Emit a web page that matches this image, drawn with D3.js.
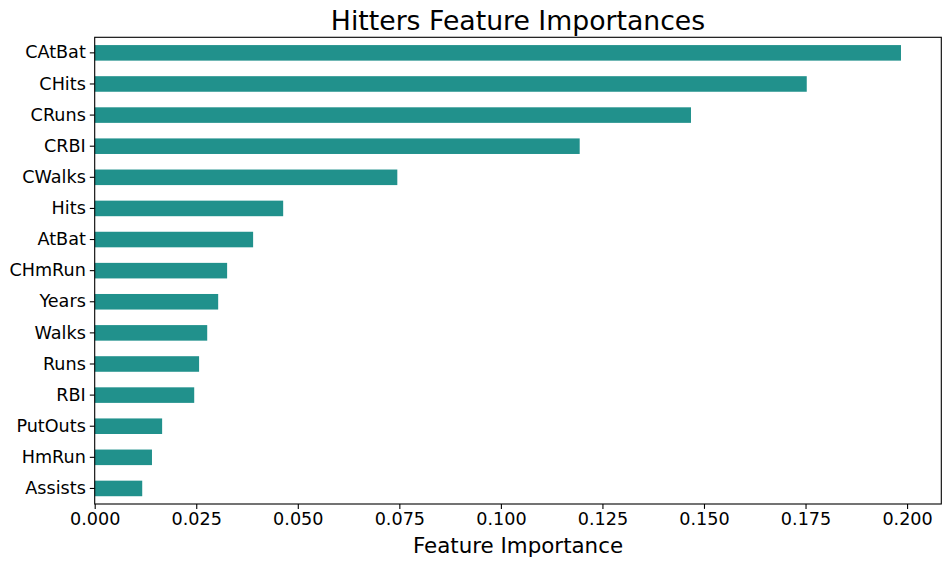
<!DOCTYPE html>
<html><head><meta charset="utf-8">
<script src="https://cdn.jsdelivr.net/npm/d3@7"></script>
<style>body{margin:0;background:#fff}svg{display:block}text{font-family:"DejaVu Sans",sans-serif}</style>
</head><body><svg id="c" width="950" height="566"></svg>
<script>
const features = ["CAtBat","CHits","CRuns","CRBI","CWalks","Hits","AtBat","CHmRun","Years","Walks","Runs","RBI","PutOuts","HmRun","Assists"];
const importances = [0.1985,0.1753,0.1468,0.1194,0.0745,0.0464,0.0390,0.0326,0.0304,0.0277,0.0257,0.0245,0.0166,0.0141,0.0117];
const xTicks = [0,0.025,0.05,0.075,0.1,0.125,0.15,0.175,0.2];

const svg = d3.select("#c");
const L = 94.7, R = 941.3, T = 37.3, B = 504;
const x = d3.scaleLinear().domain([0, d3.max(importances)*1.05]).range([L, R]);
const y = d3.scaleBand().domain(features).range([T, B]).paddingInner(0.5).paddingOuter(0.25);

svg.append("g").selectAll("rect").data(features).join("rect")
  .attr("x", x(0)).attr("y", d => y(d))
  .attr("width", (d,i) => x(importances[i]) - x(0))
  .attr("height", y.bandwidth()).attr("fill", "#21918c");

const xa = svg.append("g").attr("transform", `translate(0,${B})`)
  .call(d3.axisBottom(x).tickValues(xTicks).tickFormat(d3.format(".3f")).tickSize(4.9).tickPadding(4));
const ya = svg.append("g").attr("transform", `translate(${L},0)`)
  .call(d3.axisLeft(y).tickSize(4.9).tickPadding(4));
[xa, ya].forEach(a => {
  a.select(".domain").remove();
  a.selectAll("line").attr("stroke", "#000").attr("stroke-width", 1.1);
  a.selectAll("text").attr("font-size", "17.6px").attr("fill", "#000").style("font-family", '"DejaVu Sans"');
});
svg.append("rect").attr("x", L).attr("y", T).attr("width", R-L).attr("height", B-T)
  .attr("fill", "none").attr("stroke", "#000").attr("stroke-width", 1.1);

svg.append("text").attr("x", (L+R)/2).attr("y", 30).attr("text-anchor", "middle")
  .attr("font-size", "26.7px").text("Hitters Feature Importances");
svg.append("text").attr("x", (L+R)/2).attr("y", 553).attr("text-anchor", "middle")
  .attr("font-size", "21.4px").text("Feature Importance");
</script></body></html>
